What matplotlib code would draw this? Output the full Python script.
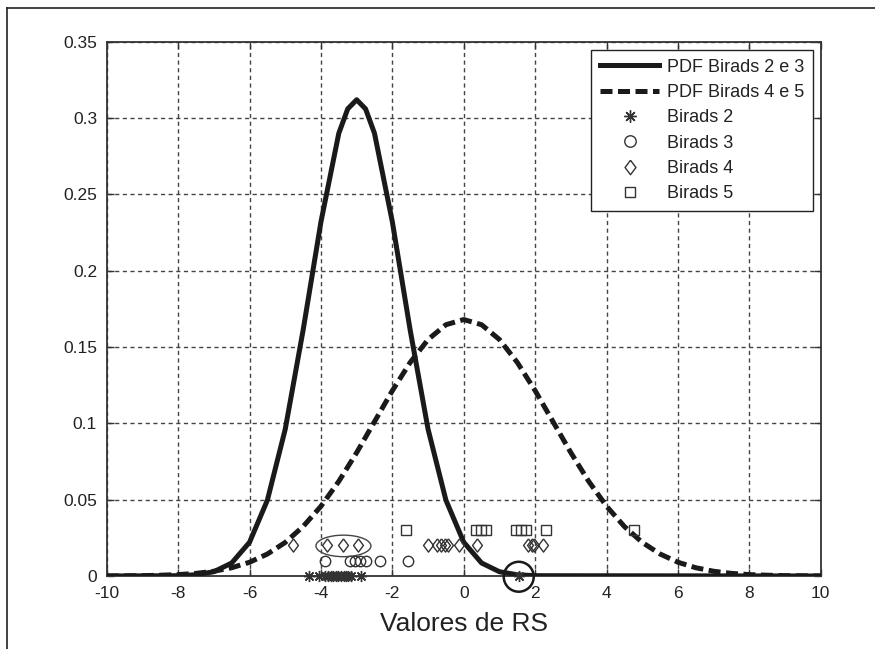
import matplotlib
matplotlib.use('Agg')
import matplotlib.pyplot as plt
from matplotlib.patches import Ellipse
from matplotlib.lines import Line2D

plt.rcParams['font.family'] = ['Liberation Sans', 'DejaVu Sans']

# PDF curves
x_pdf23 = [-10, -8, -7.5, -7, -6.5, -6, -5.5, -5, -4.5, -4, -3.5, -3.25, -3,
           -2.75, -2.5, -2, -1.5, -1, -0.5, 0, 0.5, 1, 1.5, 2, 10]
y_pdf23 = [0.0, 0.0002, 0.0008, 0.0028, 0.0085, 0.0221, 0.0497, 0.0962, 0.161,
           0.232, 0.290, 0.306, 0.312, 0.306, 0.290, 0.232, 0.161, 0.0962,
           0.0497, 0.0221, 0.0085, 0.0028, 0.0008, 0.0002, 0.0]

x_pdf45 = [-10, -9.5, -9, -8.5, -8, -7.5, -7, -6.5, -6, -5.5, -5, -4.5, -4,
           -3.5, -3, -2.5, -2, -1.5, -1, -0.5, 0, 0.5, 1, 1.5, 2, 2.5, 3,
           3.5, 4, 4.5, 5, 5.5, 6, 6.5, 7, 7.5, 8, 8.5, 9, 9.5, 10]
y_pdf45 = [0.0, 0.0001, 0.0002, 0.0005, 0.0009, 0.0017, 0.0031, 0.0054,
           0.0090, 0.0144, 0.0220, 0.0324, 0.0457, 0.0620, 0.0808, 0.1011,
           0.1214, 0.1399, 0.1549, 0.1646, 0.168, 0.1646, 0.1549, 0.1399,
           0.1214, 0.1011, 0.0808, 0.0620, 0.0457, 0.0324, 0.0220, 0.0144,
           0.0090, 0.0054, 0.0031, 0.0017, 0.0009, 0.0005, 0.0002, 0.0001, 0.0]

# samples (each class plotted at its own height)
b2_x = [-4.33, -4.05, -3.88, -3.79, -3.72, -3.65, -3.58, -3.51, -3.44, -3.36,
        -3.30, -3.23, -3.16, -2.88, 1.54]
b2_lvl = 0.0
b3_x = [-3.9, -3.2, -3.05, -2.9, -2.75, -2.35, -1.55]
b3_lvl = 0.01
b4_x = [-4.77, -3.83, -3.37, -2.95, -1.0, -0.76, -0.63, -0.52, -0.43, -0.14,
        0.37, 1.79, 1.91, 1.98, 2.22]
b4_lvl = 0.02
b5_x = [-1.63, 0.33, 0.47, 0.61, 1.45, 1.59, 1.74, 2.29, 4.78]
b5_lvl = 0.03

xticks = [-10, -8, -6, -4, -2, 0, 2, 4, 6, 8, 10]
yticks = [0, 0.05, 0.1, 0.15, 0.2, 0.25, 0.3, 0.35]
ytick_labels = ['0', '0.05', '0.1', '0.15', '0.2', '0.25', '0.3', '0.35']

fig = plt.figure(figsize=(8.75, 6.49), dpi=100)
fig.patch.set_facecolor('white')
ax = fig.add_axes([0.122, 0.1125, 0.816, 0.8232])

ink = '#1a1a1a'
mk = '#333333'
diamond = [(0, 1), (0.75, 0), (0, -1), (-0.75, 0), (0, 1)]
asterisk = (8, 2, 0)

ax.plot(x_pdf23, y_pdf23, color=ink, lw=3.6, solid_joinstyle='round',
        label='PDF Birads 2 e 3', zorder=3)
ax.plot(x_pdf45, y_pdf45, color=ink, lw=3.6, linestyle=(0, (2.4, 1.1)),
        label='PDF Birads 4 e 5', zorder=3)

ax.plot(b2_x, [b2_lvl] * len(b2_x), linestyle='none', marker=asterisk,
        markersize=8, markeredgecolor=mk, markeredgewidth=1.0, label='Birads 2',
        zorder=4, clip_on=False)
ax.plot(b3_x, [b3_lvl] * len(b3_x), linestyle='none', marker='o', markersize=7.5,
        markerfacecolor='none', markeredgecolor=mk, markeredgewidth=1.0,
        label='Birads 3', zorder=4)
ax.plot(b4_x, [b4_lvl] * len(b4_x), linestyle='none', marker=diamond, markersize=9.5,
        markerfacecolor='none', markeredgecolor=mk, markeredgewidth=1.0,
        label='Birads 4', zorder=4)
ax.plot(b5_x, [b5_lvl] * len(b5_x), linestyle='none', marker='s', markersize=7,
        markerfacecolor='none', markeredgecolor=mk, markeredgewidth=1.0,
        label='Birads 5', zorder=4)

# hand-drawn highlight shapes
ax.add_patch(Ellipse((-3.37, 0.0197), 1.54, 0.0141, fill=False,
                     edgecolor='#444444', lw=1.0, zorder=5))
ax.add_patch(Ellipse((1.54, -0.0005), 0.84, 0.0196, fill=False,
                     edgecolor=ink, lw=1.8, zorder=5, clip_on=False))

ax.set_xlim(-10, 10)
ax.set_ylim(0, 0.35)
ax.set_xticks(xticks)
ax.set_xticklabels([str(t) for t in xticks])
ax.set_yticks(yticks)
ax.set_yticklabels(ytick_labels)
ax.tick_params(direction='in', length=5, width=1, colors='#333333',
               labelcolor='#222222', labelsize=12.5, top=True, right=True, pad=7)
ax.grid(True, color='#444444', linestyle=(0, (3, 2.5)), linewidth=1.0)
ax.set_axisbelow(True)
for s in ax.spines.values():
    s.set_color('#333333')
    s.set_linewidth(1.3)

ax.set_xlabel('Valores de RS', fontsize=19, color='#222222', labelpad=8)

leg = ax.legend(loc='upper right', bbox_to_anchor=(0.989, 0.985), borderaxespad=0,
                fontsize=13, numpoints=1, handlelength=3.3, handletextpad=0.4,
                labelspacing=0.46, borderpad=0.5, fancybox=False, framealpha=1,
                markerscale=1.1)
leg.get_frame().set_edgecolor('#222222')
leg.get_frame().set_linewidth(1.0)
for t in leg.get_texts():
    t.set_color('#222222')

# outer frame lines (left and top) of the original figure
fig.add_artist(Line2D([0.008, 0.008], [0.0, 0.988], transform=fig.transFigure,
                      color='#222222', lw=1.2))
fig.add_artist(Line2D([0.008, 1.0], [0.988, 0.988], transform=fig.transFigure,
                      color='#222222', lw=1.2))

fig.savefig('out.png', dpi=100, facecolor='white')
plt.close(fig)
